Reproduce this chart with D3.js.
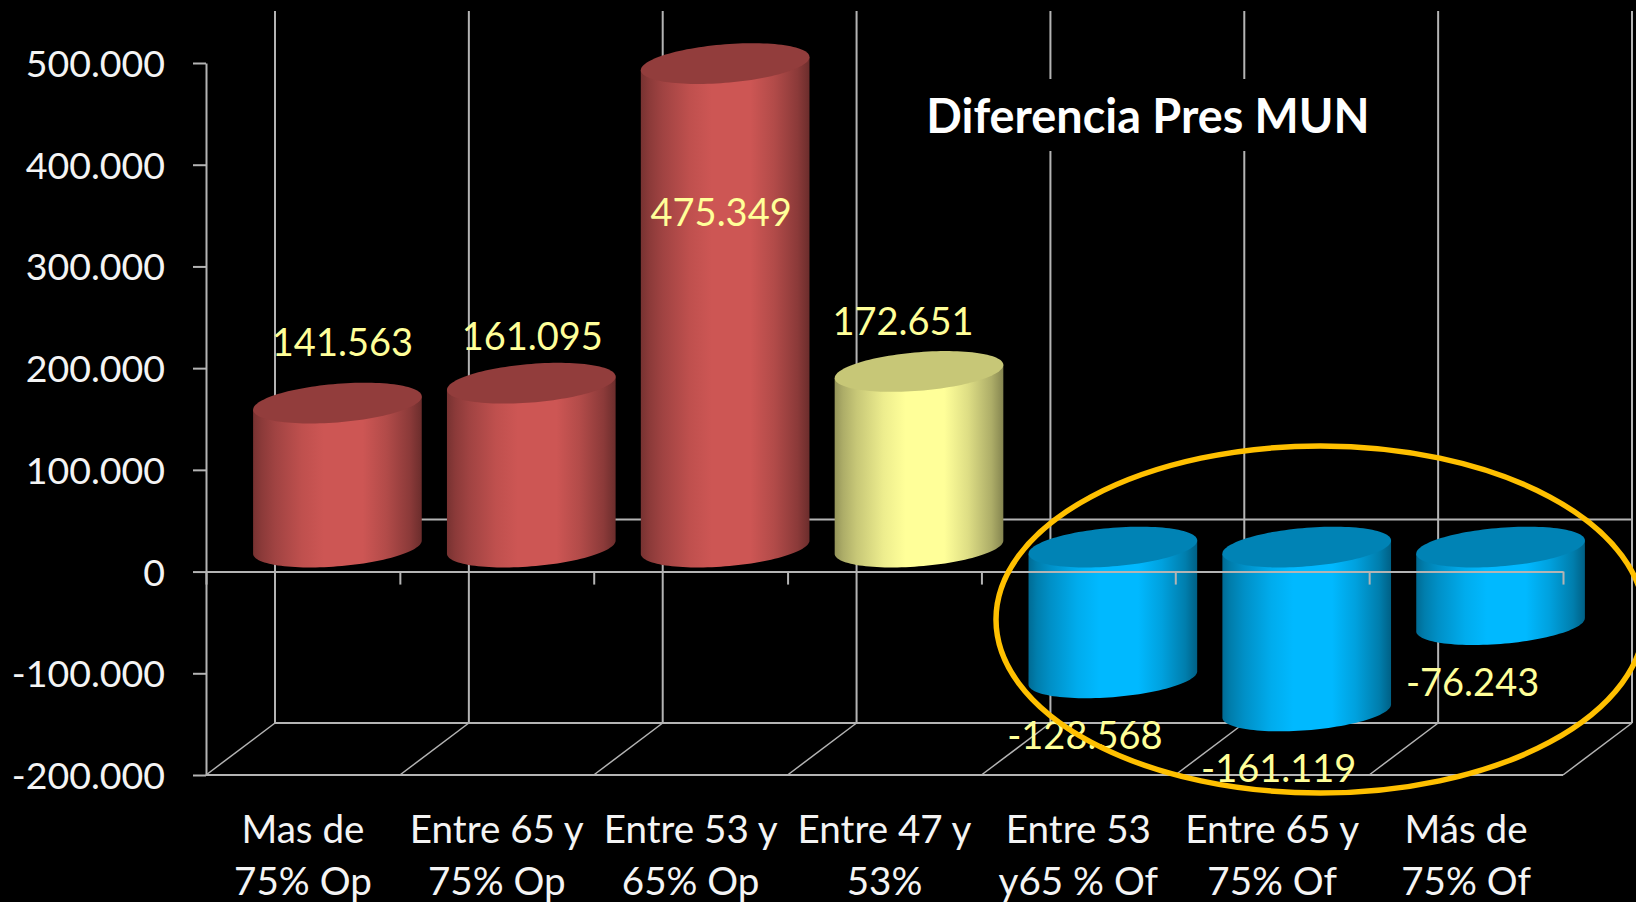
<!DOCTYPE html>
<html>
<head>
<meta charset="utf-8">
<script src="https://cdn.jsdelivr.net/npm/d3@7/dist/d3.min.js"></script>
<style>
html,body{margin:0;padding:0;background:#000;overflow:hidden}
svg{display:block}
text{font-family:Lato,"Open Sans",sans-serif}
</style>
</head>
<body>
<svg id="chart" width="1636" height="902"></svg>
<script>
// ---- data ----
const categories = ["Mas de\n75% Op","Entre 65 y\n75% Op","Entre 53 y\n65% Op","Entre 47 y\n53%","Entre 53\ny65 % Of","Entre 65 y\n75% Of","Más de\n75% Of"];
const values = [141563,161095,475349,172651,-128568,-161119,-76243];
const barKinds = ["red","red","red","yellow","blue","blue","blue"];
const yTicks = [-200000,-100000,0,100000,200000,300000,400000,500000];
const titleText = "Diferencia Pres MUN";

// ---- layout and style ----
const W = 1636, H = 902;
const baseColors = {red:"#CD5654", yellow:"#FFFF99", blue:"#00B9FF"};
const gridColor = "#b4b4b4", labelYellow = "#FFFF99", axisText = "#f4f4f4";
const depthX = 69, depthY = -52;        // 3-D depth of the floor
const barOffX = 34.5, barOffY = -24.5;  // bars stand in the middle of the depth
// hand-placed data labels: offset from the bar's end (x, baseline y)
const labelNudge = [[5,-46],[1,-32],[-4,163],[-16,-35],[-28,72],[-28,72],[-28,72]];

const svg = d3.select("#chart");
svg.append("rect").attr("width",W).attr("height",H).attr("fill","#000");

const y = d3.scaleLinear().domain([-200000,500000]).range([775,63]);
const x = d3.scaleBand().domain(categories).range([206,1563]).padding(0);
const xEdge = d3.scaleLinear().domain([0,categories.length]).range([206,1563]);
const fmt = d3.formatLocale({decimal:",",thousands:".",grouping:[3],currency:["",""],minus:"-"}).format(",d");

// gradients
const defs = svg.append("defs");
const shade = [[0,.58],[.05,.68],[.13,.78],[.29,.93],[.42,1],[.65,1],[.79,.87],[.93,.68],[1,.52]];
function mul(c,f){const r=d3.rgb(c);return d3.rgb(r.r*f,r.g*f,r.b*f).formatHex();}
Object.entries(baseColors).forEach(([k,c])=>{
  const g=defs.append("linearGradient").attr("id","grad-"+k).attr("x1",0).attr("x2",1).attr("y1",0).attr("y2",0);
  shade.forEach(([o,f])=>g.append("stop").attr("offset",o).attr("stop-color",mul(c,f)));
});

// back wall and floor
const wall = svg.append("g").attr("stroke",gridColor).attr("fill","none");
d3.range(categories.length+1).forEach(i=>{
  const xi=xEdge(i);
  wall.append("line").attr("x1",xi+depthX).attr("x2",xi+depthX).attr("y1",11).attr("y2",y(-200000)+depthY).attr("stroke-width",2);
  wall.append("line").attr("x1",xi).attr("x2",xi+depthX).attr("y1",y(-200000)).attr("y2",y(-200000)+depthY).attr("stroke-width",1.5);
});
wall.append("line").attr("x1",xEdge(0)+depthX).attr("x2",xEdge(7)+depthX).attr("y1",y(-200000)+depthY).attr("y2",y(-200000)+depthY).attr("stroke-width",2);
wall.append("line").attr("x1",xEdge(0)+depthX).attr("x2",xEdge(7)+depthX).attr("y1",y(0)+depthY).attr("y2",y(0)+depthY).attr("stroke-width",2);
wall.append("line").attr("x1",xEdge(0)).attr("x2",xEdge(7)).attr("y1",y(-200000)).attr("y2",y(-200000)).attr("stroke-width",2);

// title box hides the wall lines behind it
svg.append("rect").attr("x",920).attr("y",79).attr("width",456).attr("height",72).attr("fill","#000");

// y axis
const gy = svg.append("g").attr("transform","translate(206,0)")
  .call(d3.axisLeft(y).tickValues(yTicks).tickFormat(fmt).tickSize(13).tickSizeOuter(0).tickPadding(28));
gy.selectAll("path,line").attr("stroke",gridColor).attr("stroke-width",2);
gy.selectAll("text").attr("fill",axisText).attr("font-size",37.5).attr("font-family","Lato").attr("dy","0.36em");

// cylinders
const A = x.bandwidth()*0.435, B = 19.3, C = 6.6;
const ellPt = (cx,cy,t)=>[cx+A*Math.cos(t), cy+B*Math.sin(t)-C*Math.cos(t)];
const line = d3.line();
const bars = svg.append("g");
values.forEach((v,i)=>{
  const cx = x(categories[i])+x.bandwidth()/2+barOffX;
  const y0 = y(0)+barOffY, yv = y(v)+barOffY;
  const yTop = Math.min(y0,yv), yBot = Math.max(y0,yv);
  const kind = barKinds[i];
  const ts = d3.range(0,61).map(k=>Math.PI*(1-k/60));
  const body = [ellPt(cx,yTop,Math.PI), ...ts.map(t=>ellPt(cx,yBot,t)), ellPt(cx,yTop,0)];
  bars.append("path").attr("d",line(body)+"Z").attr("fill",`url(#grad-${kind})`);
  const cap = d3.range(0,120).map(k=>ellPt(cx,yTop,2*Math.PI*k/120));
  bars.append("path").attr("d",line(cap)+"Z").attr("fill",mul(baseColors[kind],kind==="yellow"?.78:.71));
});

// zero axis with tick marks at category boundaries, in front of the bars
const gz = svg.append("g").attr("transform",`translate(0,${y(0)})`)
  .call(d3.axisBottom(xEdge).tickValues(d3.range(categories.length+1)).tickFormat("").tickSize(13).tickSizeOuter(0));
gz.selectAll("path,line").attr("stroke",gridColor).attr("stroke-width",2);

// category labels
const gx = svg.append("g").attr("transform","translate(0,843)")
  .call(d3.axisBottom(x).tickSize(0).tickPadding(0).tickFormat(""));
gx.select("path").remove();
gx.selectAll(".tick text").attr("y",0).attr("dy",0)
  .attr("fill",axisText).attr("font-size",38.6).attr("font-family","Lato").attr("text-anchor","middle")
  .each(function(d){
    const t=d3.select(this);
    d.split("\n").forEach((s,k)=>t.append("tspan").attr("x",0).attr("y",k*51.5).text(s));
  });

// data labels
svg.append("g").selectAll("text").data(values).join("text")
  .attr("x",(v,i)=>x(categories[i])+x.bandwidth()/2+barOffX+labelNudge[i][0])
  .attr("y",(v,i)=>y(v)+barOffY+labelNudge[i][1]-1)
  .attr("text-anchor","middle").attr("fill",labelYellow).attr("font-size",38)
  .text(v=>fmt(v));

// title
svg.append("text").attr("x",1148).attr("y",133).attr("text-anchor","middle")
  .attr("fill","#fff").attr("font-size",46.8).attr("font-weight",700).text(titleText);

// highlight ellipse over the negative bars
svg.append("ellipse").attr("cx",1320.3).attr("cy",619.5).attr("rx",324.3).attr("ry",173.5)
  .attr("fill","none").attr("stroke","#FFC000").attr("stroke-width",5.5);
</script>
</body>
</html>
